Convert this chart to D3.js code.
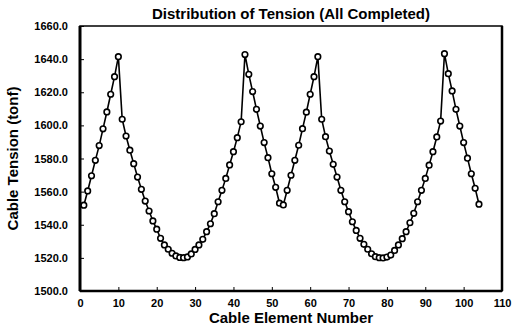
<!DOCTYPE html>
<html>
<head>
<meta charset="utf-8">
<script src="https://cdn.jsdelivr.net/npm/d3@7"></script>
<style>
  body { margin: 0; background: #fff; }
  svg { display: block; font-family: "Liberation Sans", Arial, sans-serif; }
</style>
</head>
<body>
<svg id="chart" width="515" height="328"></svg>
<script>
// cable tension per element (tonf)
const elements = d3.range(1, 105);
const tension = [
  1551.8, 1560.4, 1569.6, 1578.9, 1587.8, 1597.9, 1608.1, 1618.8, 1629.4, 1641.5,
  1603.7, 1593.6, 1585.0, 1576.9, 1568.8, 1561.4, 1554.3, 1548.3, 1542.3, 1537.3,
  1531.8, 1527.8, 1525.2, 1522.8, 1521.2, 1520.3, 1520.1, 1520.6, 1522.4, 1525.1,
  1527.8, 1531.2, 1535.8, 1540.6, 1546.7, 1553.9, 1560.8, 1568.0, 1576.1, 1584.1,
  1592.6, 1602.2, 1642.8, 1630.8, 1620.4, 1609.7, 1599.6, 1589.6, 1580.5, 1570.8,
  1562.6, 1553.0, 1552.0, 1560.8, 1569.9, 1578.9, 1588.0, 1598.0, 1608.0, 1618.8,
  1629.4, 1641.5, 1603.7, 1593.2, 1584.5, 1576.5, 1568.8, 1560.8, 1553.9, 1547.9,
  1541.8, 1536.6, 1531.8, 1528.2, 1525.2, 1522.5, 1520.7, 1520.1, 1520.0, 1520.5,
  1521.7, 1524.5, 1527.8, 1531.6, 1535.8, 1541.2, 1546.9, 1553.9, 1560.8, 1568.0,
  1576.0, 1584.1, 1593.0, 1602.6, 1643.3, 1631.2, 1620.8, 1609.7, 1599.6, 1589.6,
  1580.2, 1570.8, 1562.0, 1552.4
];
const xTicks = d3.range(0, 111, 10);
const yTicks = d3.range(1500, 1661, 20);

const margin = { top: 26, right: 13, bottom: 37, left: 80 };
const W = 515, H = 328;
const width = W - margin.left - margin.right;
const height = H - margin.top - margin.bottom;

const svg = d3.select('#chart');
const g = svg.append('g').attr('transform', `translate(${margin.left},${margin.top})`);

const x = d3.scaleLinear().domain([0, 110]).range([0, width]);
const y = d3.scaleLinear().domain([1500, 1660]).range([height, 0]);

// frame
g.append('rect')
  .attr('width', width).attr('height', height)
  .attr('fill', 'none').attr('stroke', '#000').attr('stroke-width', 1.5);
g.append('line').attr('x1', 0).attr('x2', 0).attr('y1', 0).attr('y2', height)
  .attr('stroke', '#000').attr('stroke-width', 3);
g.append('line').attr('x1', 0).attr('x2', width).attr('y1', height).attr('y2', height)
  .attr('stroke', '#000').attr('stroke-width', 2.5);
g.append('line').attr('x1', width).attr('x2', width).attr('y1', 0).attr('y2', height)
  .attr('stroke', '#000').attr('stroke-width', 2.5);

// axes, ticks pointing inward
const xAxis = g.append('g')
  .attr('transform', `translate(0,${height})`)
  .call(d3.axisBottom(x).tickValues(xTicks).tickSize(-4).tickPadding(8).tickFormat(d3.format('d')));
const yAxis = g.append('g')
  .call(d3.axisLeft(y).tickValues(yTicks).tickSize(-4).tickPadding(12).tickFormat(d3.format('.1f')));

[xAxis, yAxis].forEach(a => {
  a.select('.domain').remove();
  a.selectAll('line').attr('stroke', '#000').attr('stroke-width', 1);
  a.selectAll('text')
    .attr('fill', '#000')
    .style('font-size', '11px')
    .style('font-weight', 'bold');
});

// line and markers
const line = d3.line()
  .x((d, i) => x(elements[i]))
  .y(d => y(d));

g.append('path')
  .datum(tension)
  .attr('fill', 'none')
  .attr('stroke', '#000')
  .attr('stroke-width', 1.6)
  .attr('d', line);

g.selectAll('.pt')
  .data(tension)
  .enter().append('circle')
  .attr('class', 'pt')
  .attr('cx', (d, i) => x(elements[i]))
  .attr('cy', d => y(d))
  .attr('r', 2.8)
  .attr('fill', '#fff')
  .attr('stroke', '#000')
  .attr('stroke-width', 1.6);

// titles
svg.append('text')
  .attr('x', margin.left + width / 2).attr('y', 19)
  .attr('text-anchor', 'middle')
  .style('font-size', '15px').style('font-weight', 'bold')
  .text('Distribution of Tension (All Completed)');

svg.append('text')
  .attr('x', margin.left + width / 2).attr('y', 323)
  .attr('text-anchor', 'middle')
  .style('font-size', '15px').style('font-weight', 'bold')
  .text('Cable Element Number');

svg.append('text')
  .attr('transform', `translate(18,${margin.top + height / 2}) rotate(-90)`)
  .attr('text-anchor', 'middle')
  .style('font-size', '15px').style('font-weight', 'bold')
  .text('Cable Tension (tonf)');
</script>
</body>
</html>
